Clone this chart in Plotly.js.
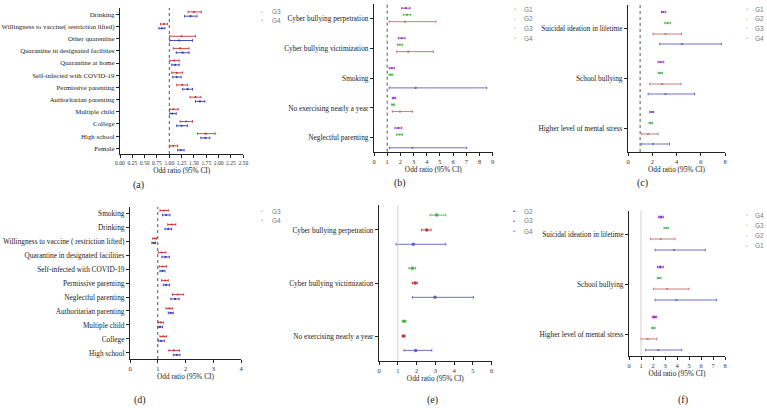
<!DOCTYPE html>
<html><head><meta charset="utf-8">
<script src="https://cdn.plot.ly/plotly-3.0.1.min.js"></script>
<style>html,body{margin:0;padding:0;background:#fff;}#chart{width:767px;height:408px;}</style>
</head><body><div id="chart"></div>
<script>
// ---------------- DATA ----------------
// (a)
const catsA = ['Drinking','Willingness to vaccine( restriction lifted)','Other quarentine','Quarantine in designated facilities','Quarantine at home','Self-infected with COVID-19','Permissive parenting','Authoritarian parenting','Multiple child','College','High school','Female'];
const aG3_or = [1.50,0.89,1.25,1.22,1.10,1.15,1.26,1.53,1.08,1.34,1.74,1.08];
const aG3_lo = [1.38,0.82,1.01,1.08,1.01,1.05,1.15,1.42,1.01,1.22,1.57,1.01];
const aG3_hi = [1.65,0.96,1.53,1.40,1.20,1.27,1.37,1.64,1.18,1.47,1.93,1.17];
const aG4_or = [1.43,0.85,1.20,1.27,1.12,1.15,1.37,1.62,1.06,1.25,1.73,1.23];
const aG4_lo = [1.31,0.79,1.01,1.14,1.05,1.07,1.27,1.53,1.01,1.15,1.64,1.17];
const aG4_hi = [1.56,0.91,1.47,1.40,1.20,1.24,1.47,1.72,1.14,1.37,1.82,1.30];
const aTicks = [0,0.25,0.5,0.75,1,1.25,1.5,1.75,2,2.25,2.5];
// (b)
const catsB = ['Cyber bullying perpetration','Cyber bullying victimization','Smoking','No exercising nearly a year','Neglectful parenting'];
const bG1_or = [2.40,2.10,1.35,1.50,1.85], bG1_lo = [2.10,1.85,1.16,1.39,1.59], bG1_hi = [2.73,2.35,1.54,1.64,2.10];
const bG2_or = [2.50,1.95,1.28,1.45,1.95], bG2_lo = [2.22,1.77,1.14,1.34,1.72], bG2_hi = [2.78,2.15,1.42,1.54,2.15];
const bG3_or = [2.35,2.60,null,1.97,null], bG3_lo = [1.16,1.72,null,1.39,null], bG3_hi = [4.70,4.50,null,2.91,null];
const bG4_or = [null,null,3.16,null,2.91], bG4_lo = [null,null,1.16,null,1.16], bG4_hi = [null,null,8.55,null,7.03];
const bTicks = [0,1,2,3,4,5,6,7,8,9];
// (c)
const catsC = ['Suicidal ideation in lifetime','School bullying','Higher level of mental stress'];
const cG1_or = [2.90,2.70,1.95], cG1_lo = [2.76,2.48,1.79], cG1_hi = [3.12,2.95,2.12];
const cG2_or = [3.25,2.65,1.87], cG2_lo = [3.03,2.48,1.74], cG2_hi = [3.50,2.84,2.01];
const cG3_or = [3.09,2.81,1.66], cG3_lo = [2.07,1.79,1.13], cG3_hi = [4.41,4.36,2.48];
const cG4_or = [4.47,3.09,2.07], cG4_lo = [2.62,1.66,1.13], cG4_hi = [7.70,5.49,3.42];
const cTicks = [0,2,4,6,8];
// (d)
const catsD = ['Smoking','Drinking','Willingness to vaccine ( restriction lifted)','Quarantine in designated facilities','Self-infected with COVID-19','Permissive parenting','Neglectful parenting','Authoritarian parenting','Multiple child','College','High school'];
const dG3_or = [1.22,1.50,0.89,1.14,1.18,1.26,1.72,1.42,1.10,1.20,1.58];
const dG3_lo = [1.08,1.36,0.82,1.02,1.05,1.14,1.53,1.30,1.02,1.08,1.40];
const dG3_hi = [1.38,1.65,0.96,1.29,1.32,1.38,1.92,1.54,1.20,1.32,1.78];
const dG4_or = [1.30,1.38,0.86,1.28,1.17,1.30,1.62,1.47,1.08,1.12,1.68];
const dG4_lo = [1.17,1.26,0.79,1.15,1.08,1.20,1.47,1.38,1.00,1.02,1.56];
const dG4_hi = [1.44,1.50,0.92,1.42,1.26,1.42,1.77,1.56,1.17,1.24,1.80];
const dTicks = [0,1,2,3,4];
// (e)
const catsE = ['Cyber bullying perpetration','Cyber bullying victimization','No exercising nearly a year'];
const eG4_or = [3.07,1.78,1.33], eG4_lo = [2.72,1.60,1.24], eG4_hi = [3.55,1.95,1.44];
const eG3_or = [2.54,1.92,1.30], eG3_lo = [2.27,1.78,1.24], eG3_hi = [2.77,2.04,1.39];
const eG2_or = [1.83,2.98,1.95], eG2_lo = [0.91,1.78,1.33], eG2_hi = [3.55,5.03,2.81];
const eTicks = [0,1,2,3,4,5,6];
// (f)
const catsF = ['Suicidal ideation in lifetime','School bullying','Higher level of mental stress'];
const fG1_or = [2.65,2.60,2.12], fG1_lo = [2.44,2.36,1.94], fG1_hi = [2.86,2.86,2.31];
const fG2_or = [3.10,2.50,2.00], fG2_lo = [2.92,2.36,1.89], fG2_hi = [3.31,2.67,2.17];
const fG3_or = [2.64,3.19,1.56], fG3_lo = [1.80,2.03,1.00], fG3_hi = [3.83,5.00,2.31];
const fG4_or = [3.75,3.97,2.44], fG4_lo = [2.17,2.17,1.39], fG4_hi = [6.36,7.30,4.39];
const fTicks = [0,1,2,3,4,5,6,7,8];

const legA = ['G3','G4'], legB = ['G1','G2','G3','G4'], legC = ['G1','G2','G3','G4'];
const legD = ['G3','G4'], legE = ['G2','G3','G4'], legF = ['G4','G3','G2','G1'];
const xTitle = 'Odd ratio (95% CI)';
const refValue = 1;

// ---------------- STYLE ----------------
const W = 767, H = 408;
const RED = 'rgb(200,55,55)', BLUE = 'rgb(55,55,185)', PURPLE = 'rgb(150,50,200)', GREEN = 'rgb(70,180,70)';
const RED2 = 'rgb(195,110,110)', BLUE2 = 'rgb(95,95,205)';
const SERIF = 'Liberation Serif, Times New Roman, serif';
const SANS = 'Liberation Sans, Arial, sans-serif';
const px = v => v / W, py = v => 1 - v / H;

const traces = [];
function fp(ax, or, lo, hi, offset, color, name, msize) {
  const idx = or.map((v, i) => i).filter(i => or[i] !== null);
  traces.push({
    type: 'scatter', mode: 'markers', name: name, showlegend: false,
    xaxis: 'x' + ax, yaxis: 'y' + ax,
    x: idx.map(i => or[i]), y: idx.map(i => i + offset),
    error_x: { type: 'data', symmetric: false,
      array: idx.map(i => hi[i] - or[i]), arrayminus: idx.map(i => or[i] - lo[i]),
      color: color, thickness: 0.9, width: 1.3 },
    marker: { color: color, size: msize || 2.2 },
    hovertemplate: name + ': %{x}<extra></extra>'
  });
}
// (a)
fp('', aG3_or, aG3_lo, aG3_hi, -0.2, RED, 'G3');
fp('', aG4_or, aG4_lo, aG4_hi, 0.15, BLUE, 'G4');
// (b)
fp('2', bG1_or, bG1_lo, bG1_hi, -0.33, PURPLE, 'G1');
fp('2', bG2_or, bG2_lo, bG2_hi, -0.11, GREEN, 'G2');
fp('2', bG3_or, bG3_lo, bG3_hi, 0.12, RED2, 'G3');
fp('2', bG4_or, bG4_lo, bG4_hi, 0.33, BLUE2, 'G4');
// (c)
fp('3', cG1_or, cG1_lo, cG1_hi, -0.32, PURPLE, 'G1');
fp('3', cG2_or, cG2_lo, cG2_hi, -0.1, GREEN, 'G2');
fp('3', cG3_or, cG3_lo, cG3_hi, 0.12, RED2, 'G3');
fp('3', cG4_or, cG4_lo, cG4_hi, 0.32, BLUE2, 'G4');
// (d)
fp('4', dG3_or, dG3_lo, dG3_hi, -0.18, RED, 'G3');
fp('4', dG4_or, dG4_lo, dG4_hi, 0.14, BLUE, 'G4');
// (e)
fp('5', eG4_or, eG4_lo, eG4_hi, -0.28, GREEN, 'G4', 3.5);
fp('5', eG3_or, eG3_lo, eG3_hi, 0, RED, 'G3', 3.5);
fp('5', eG2_or, eG2_lo, eG2_hi, 0.27, BLUE2, 'G2', 3.5);
// (f)
fp('6', fG1_or, fG1_lo, fG1_hi, -0.34, PURPLE, 'G1', 3);
fp('6', fG2_or, fG2_lo, fG2_hi, -0.12, GREEN, 'G2');
fp('6', fG3_or, fG3_lo, fG3_hi, 0.1, RED2, 'G3');
fp('6', fG4_or, fG4_lo, fG4_hi, 0.32, BLUE2, 'G4');

const layout = {
  width: W, height: H, autosize: false,
  margin: { l: 0, r: 0, t: 0, b: 0 },
  paper_bgcolor: '#fff', plot_bgcolor: '#fff',
  showlegend: false, hovermode: 'closest',
  font: { family: SERIF, color: '#222' },
  shapes: [], annotations: []
};
function axes(ax, x0, x1, yTop, yBot, ticks, yr, cats, fmt, refDash, ySize, xSize) {
  const xk = 'xaxis' + ax, yk = 'yaxis' + ax;
  layout[xk] = {
    domain: [px(x0), px(x1)], anchor: 'y' + ax, range: [ticks[0], ticks[ticks.length - 1]],
    tickvals: ticks, tickformat: fmt, tickangle: 0, ticks: 'outside', ticklen: 3, tickwidth: 1, tickcolor: '#222',
    showline: true, linecolor: '#222', linewidth: 1.2, showgrid: false, zeroline: false,
    tickfont: { family: SERIF, size: xSize || 6.5, color: '#333' },
    title: { text: xTitle, font: { family: SERIF, size: 7.3, color: '#222' }, standoff: 2 }
  };
  layout[yk] = {
    domain: [py(yBot), py(yTop)], anchor: 'x' + ax, range: yr,
    tickvals: cats.map((c, i) => i), ticktext: cats, ticks: 'outside', ticklen: 3, tickwidth: 1.2, tickcolor: '#222',
    showline: true, linecolor: '#222', linewidth: 1.2, showgrid: false, zeroline: false,
    tickfont: { family: SERIF, size: ySize || 7.3, color: '#222' }
  };
  layout.shapes.push({
    type: 'line', xref: 'x' + ax, yref: 'y' + ax + ' domain', x0: refValue, x1: refValue, y0: 0, y1: 1,
    line: refDash ? { color: '#555', width: 1, dash: 'dot' } : { color: '#d0d0d0', width: 1 }
  });
}
axes('', 120, 243.3, 8, 154, aTicks, [11.47, -0.52], catsA, '.2f', true, 6.9, 5.6);
axes('2', 374, 492.7, 4, 151.7, bTicks, [4.46, -0.47], catsB, 'd', true);
axes('3', 628, 725, 5, 152, cTicks, [2.48, -0.46], catsC, 'd', true);
axes('4', 130, 241, 207, 359, dTicks, [10.43, -0.43], catsD, 'd', true);
axes('5', 379, 491.7, 205, 361, eTicks, [2.47, -0.47], catsE, 'd', false);
axes('6', 629, 725, 211, 356, fTicks, [2.44, -0.46], catsF, 'd', false);

function legend(names, colors, xDot, xText, yFirst, step) {
  names.forEach((n, i) => {
    const y = py(yFirst + i * step);
    layout.annotations.push({ xref: 'paper', yref: 'paper', x: px(xDot), y: y, text: '•', showarrow: false,
      xanchor: 'center', yanchor: 'middle', font: { family: SANS, size: 6, color: colors[i] } });
    layout.annotations.push({ xref: 'paper', yref: 'paper', x: px(xText), y: y, text: n, showarrow: false,
      xanchor: 'left', yanchor: 'middle', font: { family: SANS, size: 6.5, color: '#777' } });
  });
}
const fade = c => c.replace('rgb', 'rgba').replace(')', ',0.45)');
legend(legA, [fade(RED), fade(BLUE)], 262, 270, 11.5, 8.5);
legend(legB, [fade(PURPLE), fade(GREEN), fade(RED2), fade(BLUE2)], 515, 522, 9, 9.7);
legend(legC, [fade(PURPLE), fade(GREEN), fade(RED2), fade(BLUE2)], 746.5, 753, 9, 9.7);
legend(legD, [fade(RED), fade(BLUE)], 262, 270, 211, 9);
legend(legE, [BLUE, RED, GREEN], 513.5, 522, 211, 10);
legend(legF, [fade(BLUE2), fade(GREEN), fade(RED2), fade(PURPLE)], 746.5, 753, 215, 10.3);

function panelLabel(t, x, y) {
  layout.annotations.push({ xref: 'paper', yref: 'paper', x: px(x), y: py(y), text: t, showarrow: false,
    xanchor: 'center', yanchor: 'middle', font: { family: SERIF, size: 10, color: '#222' } });
}
panelLabel('(a)', 138, 185);
panelLabel('(b)', 400, 183);
panelLabel('(c)', 642, 183);
panelLabel('(d)', 140, 400);
panelLabel('(e)', 433, 400);
panelLabel('(f)', 683, 400);

Plotly.newPlot('chart', traces, layout, { displayModeBar: false, staticPlot: false });
</script></body></html>
